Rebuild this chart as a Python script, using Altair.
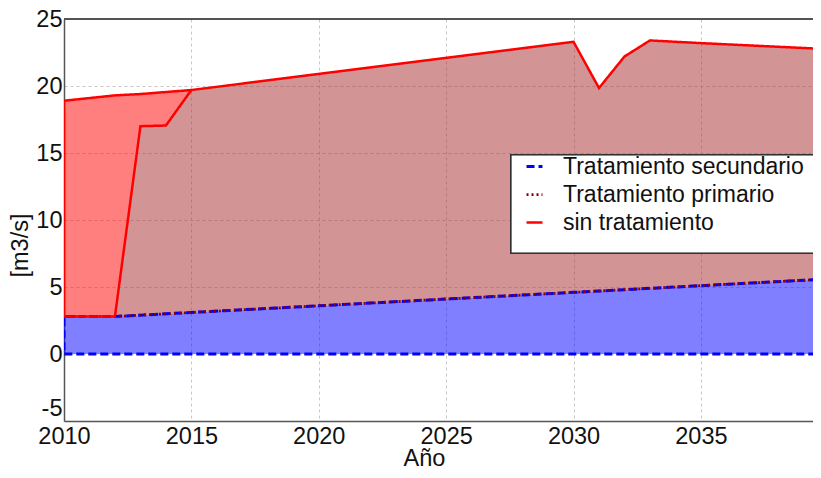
import altair as alt
import pandas as pd

# ---- data ----
years = [2010, 2012, 2013, 2014, 2015, 2020, 2025, 2030, 2031, 2032, 2033, 2035, 2040]
sin_top = [18.9, 19.3, 19.4, 19.55, 19.7, 20.9, 22.1, 23.3, 19.85, 22.2, 23.4, 23.2, 22.75]
primario_top = [2.8, 2.8, 17.0, 17.05, 19.7, 20.9, 22.1, 23.3, 19.85, 22.2, 23.4, 23.2, 22.75]
primario = [2.8, 2.8, 2.9, 3.0, 3.1, 3.6, 4.1, 4.6, 4.7, 4.8, 4.9, 5.1, 5.6]
secundario = [0, 0, 0, 0, 0, 0, 0, 0, 0, 0, 0, 0, 0]

x_ticks = [2010, 2015, 2020, 2025, 2030, 2035]
y_ticks = [-5, 0, 5, 10, 15, 20, 25]

S_SEC = "Tratamiento secundario"
S_PRI = "Tratamiento primario"
S_SIN = "sin tratamiento"

areas = pd.DataFrame({
    "year": years, "sin_top": sin_top, "pri_top": primario_top,
    "pri": primario, "sec": secundario,
})

# outline paths (ordered)
rows = []
o = 0
for y in reversed(years):
    rows.append({"year": y, "v": 0, "series": S_SEC, "o": o}); o += 1
for y, p in zip(years, primario):
    rows.append({"year": y, "v": p, "series": S_SEC, "o": o}); o += 1
for y, p in zip(years, primario):
    rows.append({"year": y, "v": p, "series": S_PRI, "o": o}); o += 1
for y, t in zip(reversed(years), reversed(sin_top)):
    rows.append({"year": y, "v": t, "series": S_SIN, "o": o}); o += 1
for y, b in zip(years[:5], primario_top[:5]):
    rows.append({"year": y, "v": b, "series": S_SIN, "o": o}); o += 1
lines = pd.DataFrame(rows)

W, H = 749, 402
FONT = "Liberation Sans"
FS = 23.5
LFS = 23

xscale = alt.Scale(domain=[2010, 2039.4], nice=False, zero=False)
yscale = alt.Scale(domain=[-5, 25], nice=False, zero=False)

xaxis = alt.Axis(values=x_ticks, format="d", title="Año", ticks=False, labelPadding=3,
                 titleX=360, titleY=44, titleBaseline="alphabetic", titleAlign="center",
                 labelFlush=False)
yaxis = alt.Axis(values=y_ticks, title="[m3/s]", ticks=False, labelPadding=2,
                 labelExpr="'' + datum.value",
                 labelOffset={"condition": {"test": "datum.value == -5", "value": -13}, "value": 0},
                 titleAngle=-90, titleX=-43.5, titleY=226, titleBaseline="middle",
                 titleAlign="center")

base = alt.Chart(areas)

blue = base.mark_area(color="blue", opacity=0.5, clip=True).encode(
    x=alt.X("year:Q", scale=xscale, axis=xaxis),
    y=alt.Y("sec:Q", scale=yscale, axis=yaxis),
    y2="pri:Q",
)
brown = base.mark_area(color="brown", opacity=0.5, clip=True).encode(
    x="year:Q", y="pri:Q", y2="pri_top:Q"
)
redarea = base.mark_area(color="red", opacity=0.5, clip=True).encode(
    x="year:Q", y="pri_top:Q", y2="sin_top:Q"
)

domain = [S_SEC, S_PRI, S_SIN]
color_scale = alt.Scale(domain=domain, range=["blue", "darkred", "red"])
dash_scale = alt.Scale(domain=domain, range=[[8, 4], [2, 3], [1, 0]])
width_scale = alt.Scale(domain=domain, range=[3, 2.5, 4])

LX = 447  # legend box left, in plot coordinates
legend = alt.Legend(
    title=None, orient="none", legendX=LX + 7.5, legendY=131.5,
    padding=0,
    labelFont=FONT, labelFontSize=LFS, labelColor="#111", labelOffset=12.5,
    symbolType="M-0.55,0H0.55", symbolSize=841, symbolStrokeWidth=3,
    symbolFillColor="transparent",
    rowPadding=0, labelLimit=400,
)

outline = alt.Chart(lines).mark_line(clip=True).encode(
    x="year:Q",
    y="v:Q",
    order="o:Q",
    color=alt.Color("series:N", scale=color_scale, legend=legend),
    strokeDash=alt.StrokeDash("series:N", scale=dash_scale, legend=legend),
    strokeWidth=alt.StrokeWidth("series:N", scale=width_scale, legend=None),
)

# decorations: top frame line and legend box
topframe = alt.Chart(areas).mark_rule(color="#555", strokeWidth=1.5).encode(
    x=alt.value(0), x2=alt.value(W), y=alt.value(0)
)
legendbox = alt.Chart(areas).mark_rect(
    fill="white", fillOpacity=0.8, stroke="#333", strokeWidth=1.2
).encode(
    x=alt.value(LX), x2=alt.value(W + 20), y=alt.value(136), y2=alt.value(234)
)

chart = alt.layer(blue, brown, redarea, outline, topframe, legendbox).properties(
    width=W, height=H,
    autosize=alt.AutoSizeParams(type="none"),
    padding={"left": 56, "top": 11, "right": 0, "bottom": 47},
    background="white",
).configure_view(stroke=None).configure_axis(
    labelFont=FONT, labelFontSize=FS, labelColor="#111",
    titleFont=FONT, titleFontSize=FS, titleColor="#111", titleFontWeight="normal",
    domainColor="#555", domainWidth=1.5,
    gridColor="#c8c8c8", gridDash=[3, 3], gridWidth=1,
)

chart.save("out.html", embed_options={"renderer": "svg", "actions": False})
